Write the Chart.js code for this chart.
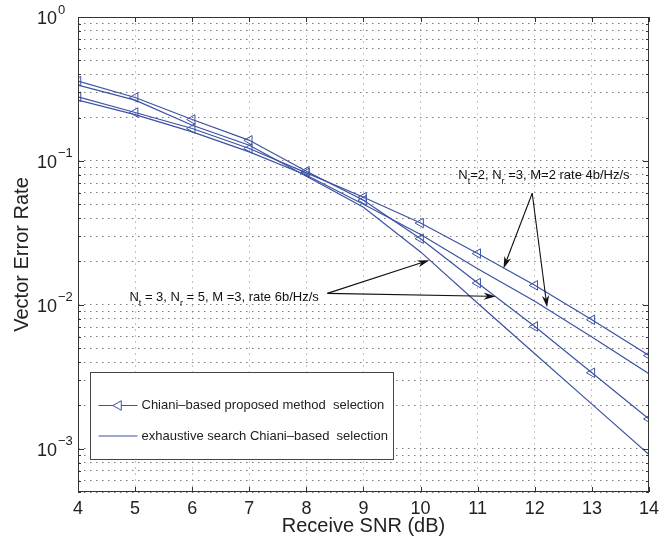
<!DOCTYPE html>
<html>
<head>
<meta charset="utf-8">
<script src="https://cdn.jsdelivr.net/npm/chart.js@4/dist/chart.umd.min.js"></script>
<style>
  html, body { margin: 0; padding: 0; background: #fff; }
  #wrap { width: 665px; height: 551px; }
</style>
</head>
<body>
<div id="wrap"><canvas id="chart"></canvas></div>
<script>
  // data
  const snr = [4, 5, 6, 7, 8, 9, 10, 11, 12, 13, 14];
  const proposedNt2 = [0.279, 0.217, 0.168, 0.122, 0.0825, 0.0559, 0.0370, 0.0227, 0.01365, 0.00787, 0.00444];
  const exhaustiveNt2 = [0.2645, 0.2097, 0.159, 0.1155, 0.0795, 0.0500, 0.0308, 0.0178, 0.0106, 0.00598, 0.00332];
  const proposedNt3 = [0.3585, 0.276, 0.194, 0.139, 0.0848, 0.0533, 0.0288, 0.01416, 0.00707, 0.00337, 0.00161];
  const exhaustiveNt3 = [0.336, 0.2645, 0.177, 0.1286, 0.0782, 0.0476, 0.0233, 0.01026, 0.00457, 0.00204, 0.00091];
  const xTicks = [4, 5, 6, 7, 8, 9, 10, 11, 12, 13, 14];
  const yDecades = [0, -1, -2, -3];
  const legendLabels = ["Chiani\u2013based proposed method  selection", "exhaustive search Chiani\u2013based  selection"];

  const blue = "#3b52a3";
  const font = "'Liberation Sans', Arial, Helvetica, sans-serif";

  const pts = arr => arr.map((v, i) => ({ x: snr[i], y: v }));

  // every 1..9 x 10^n between the axis limits
  const yMin = 5e-4, yMax = 1;
  const yGridValues = [];
  for (let e = -4; e <= 0; e++) {
    for (let m = 1; m <= 9; m++) {
      const v = m * Math.pow(10, e);
      if (v >= yMin * 0.999 && v <= yMax * 1.001) yGridValues.push(v);
    }
  }

  function marked(label, arr) {
    return {
      label, data: pts(arr), borderColor: blue, borderWidth: 1.2, backgroundColor: "rgba(0,0,0,0)",
      pointStyle: "triangle", rotation: -90, pointRadius: 5.5, pointBorderWidth: 1,
      pointBorderColor: blue, pointBackgroundColor: "rgba(0,0,0,0)", tension: 0
    };
  }
  function plain(label, arr) {
    return { label, data: pts(arr), borderColor: blue, borderWidth: 1.2, pointRadius: 0, tension: 0 };
  }

  // annotations in data coordinates
  const notes = [
    { at: [10.66, 0.0795], parts: [["N", 0], ["t", 1], ["=2, N", 0], ["r", 1], [" =3, M=2 rate 4b/Hz/s", 0]],
      arrows: [[[11.955, 0.0596], [11.452, 0.0179]], [[11.955, 0.0596], [12.215, 0.0096]]] },
    { at: [4.90, 0.01126], parts: [["N", 0], ["t", 1], [" = 3, N", 0], ["r", 1], [" = 5, M =3, rate 6b/Hz/s", 0]],
      arrows: [[[8.367, 0.0120], [10.153, 0.0204]], [[8.367, 0.0120], [11.314, 0.01144]]] }
  ];

  function arrow(ctx, x1, y1, x2, y2) {
    const a = Math.atan2(y2 - y1, x2 - x1);
    const len = 12, half = 3.6;
    ctx.beginPath();
    ctx.moveTo(x1, y1);
    ctx.lineTo(x2 - Math.cos(a) * len * 0.7, y2 - Math.sin(a) * len * 0.7);
    ctx.stroke();
    ctx.beginPath();
    ctx.moveTo(x2, y2);
    ctx.lineTo(x2 - Math.cos(a) * len + Math.sin(a) * half, y2 - Math.sin(a) * len - Math.cos(a) * half);
    ctx.lineTo(x2 - Math.cos(a) * len * 0.7, y2 - Math.sin(a) * len * 0.7);
    ctx.lineTo(x2 - Math.cos(a) * len - Math.sin(a) * half, y2 - Math.sin(a) * len + Math.cos(a) * half);
    ctx.closePath();
    ctx.fill();
  }

  const decorations = {
    id: "decorations",
    afterDatasetsDraw(chart) {
      const { ctx, chartArea: ca, scales: { x, y } } = chart;
      ctx.save();

      // box and inward ticks
      ctx.strokeStyle = "#333";
      ctx.lineWidth = 1;
      ctx.strokeRect(Math.round(ca.left) + 0.5, Math.round(ca.top) + 0.5,
        Math.round(ca.right - ca.left) - 1, Math.round(ca.bottom - ca.top) - 1);
      ctx.beginPath();
      xTicks.forEach(t => {
        const px = Math.round(x.getPixelForValue(t)) + 0.5;
        ctx.moveTo(px, ca.bottom); ctx.lineTo(px, ca.bottom - 5);
        ctx.moveTo(px, ca.top); ctx.lineTo(px, ca.top + 5);
      });
      yGridValues.forEach(v => {
        const py = Math.round(y.getPixelForValue(v)) + 0.5;
        const major = Math.abs(Math.log10(v) - Math.round(Math.log10(v))) < 1e-6;
        const l = major ? 6 : 3;
        ctx.moveTo(ca.left, py); ctx.lineTo(ca.left + l, py);
        ctx.moveTo(ca.right, py); ctx.lineTo(ca.right - l, py);
      });
      ctx.stroke();

      // annotations
      ctx.fillStyle = "#111";
      ctx.strokeStyle = "#111";
      ctx.textBaseline = "middle";
      ctx.textAlign = "left";
      notes.forEach(n => {
        let px = x.getPixelForValue(n.at[0]);
        const py = y.getPixelForValue(n.at[1]);
        n.parts.forEach(([txt, sub]) => {
          ctx.font = (sub ? "9px " : "13px ") + font;
          ctx.fillText(txt, px, sub ? py + 6 : py);
          px += ctx.measureText(txt).width;
        });
        ctx.lineWidth = 1.1;
        n.arrows.forEach(([a, b]) => {
          arrow(ctx, x.getPixelForValue(a[0]), y.getPixelForValue(a[1]),
            x.getPixelForValue(b[0]), y.getPixelForValue(b[1]));
        });
      });

      // legend
      const lx = 90.5, ly = 372.5, lw = 303, lh = 87;
      ctx.fillStyle = "#fff";
      ctx.fillRect(lx, ly, lw, lh);
      ctx.strokeStyle = "#444";
      ctx.lineWidth = 1;
      ctx.strokeRect(lx, ly, lw, lh);
      [0, 1].forEach(i => {
        const ds = chart.data.datasets[i];
        const ry = ly + 33 + i * 30.5;
        ctx.strokeStyle = ds.borderColor;
        ctx.lineWidth = 1.2;
        ctx.beginPath();
        ctx.moveTo(lx + 8, ry); ctx.lineTo(lx + 47, ry);
        ctx.stroke();
        if (ds.pointRadius) {
          ctx.lineWidth = 1;
          Chart.helpers.drawPoint(ctx, { pointStyle: ds.pointStyle, rotation: ds.rotation,
            radius: ds.pointRadius, borderWidth: 1 }, lx + 28, ry);
        }
        ctx.fillStyle = "#222";
        ctx.font = "13px " + font;
        ctx.fillText(legendLabels[i], lx + 51, ry);
      });
      ctx.restore();
    },
    afterDraw(chart) {
      // y labels as 10 with a raised exponent
      const { ctx, scales: { y } } = chart;
      ctx.save();
      ctx.fillStyle = "#222";
      ctx.textBaseline = "middle";
      ctx.textAlign = "left";
      yDecades.forEach(e => {
        const py = y.getPixelForValue(Math.pow(10, e));
        ctx.font = "18px " + font;
        ctx.fillText("10", 37, py + 2);
        const w = ctx.measureText("10").width;
        ctx.font = "13px " + font;
        ctx.fillText(e === 0 ? "0" : "\u2212" + (-e), 37 + w + 1, py - 7);
      });
      ctx.restore();
    }
  };

  new Chart(document.getElementById("chart"), {
    type: "line",
    data: {
      datasets: [
        marked(legendLabels[0], proposedNt2),
        plain(legendLabels[1], exhaustiveNt2),
        marked(legendLabels[0], proposedNt3),
        plain(legendLabels[1], exhaustiveNt3)
      ]
    },
    options: {
      responsive: true,
      maintainAspectRatio: false,
      devicePixelRatio: 1,
      animation: false,
      layout: { padding: { top: 17, right: 10, left: 0, bottom: 0 } },
      plugins: { legend: { display: false }, tooltip: { enabled: false } },
      scales: {
        x: {
          type: "linear", min: 4, max: 14,
          afterBuildTicks: s => { s.ticks = xTicks.map(v => ({ value: v })); },
          afterFit: s => { s.height = 59; },
          ticks: { autoSkip: false, padding: 6, color: "#222", font: { family: font, size: 18 } },
          grid: { drawTicks: false, color: "#c4c4c4", lineWidth: 1 },
          border: { display: false, dash: [2, 4] },
          title: { display: true, text: "Receive SNR (dB)", color: "#222",
            font: { family: font, size: 20 }, padding: { top: 0, bottom: 13 } }
        },
        y: {
          type: "logarithmic", min: yMin, max: yMax,
          afterBuildTicks: s => { s.ticks = yGridValues.map(v => ({ value: v })); },
          afterFit: s => { s.width = 78; },
          ticks: { autoSkip: false, callback: () => "" },
          grid: { drawTicks: false, color: "#7a7a7a", lineWidth: 1 },
          border: { display: false, dash: [1.5, 4.5] },
          title: { display: true, text: "Vector Error Rate", color: "#222",
            font: { family: font, size: 20 }, padding: { top: 10, bottom: 0 } }
        }
      }
    },
    plugins: [decorations]
  });
</script>
</body>
</html>
